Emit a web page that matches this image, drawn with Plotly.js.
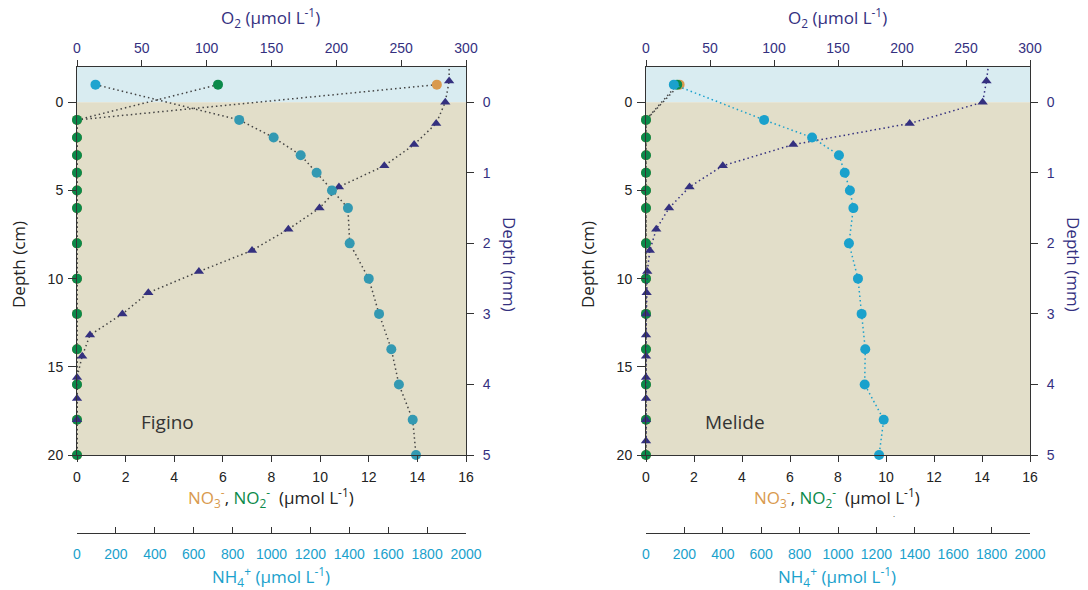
<!DOCTYPE html>
<html>
<head>
<meta charset="utf-8">
<script src="https://cdn.plot.ly/plotly-3.0.1.min.js"></script>
<style>html,body{margin:0;padding:0;background:#fff}#chart{width:1088px;height:590px}</style>
</head>
<body>
<div id="chart"></div>
<script>
// ---- data ----
const depthCm = [-1, 1, 2, 3, 4, 5, 6, 8, 10, 12, 14, 16, 18, 20];

// Figino
const figNO3 = [14.8, 0, 0, 0, 0, 0, 0, 0, 0, 0, 0, 0, 0, 0];
const figNO2 = [5.8, 0, 0, 0, 0, 0, 0, 0, 0, 0, 0, 0, 0, 0];
const figNH4 = [95, 834, 1011, 1150, 1232, 1311, 1393, 1402, 1500, 1553, 1616, 1655, 1726, 1743];
const figDepthMm = [-0.6, -0.3, 0, 0.3, 0.6, 0.9, 1.2, 1.5, 1.8, 2.1, 2.4, 2.7, 3.0, 3.3, 3.6, 3.9, 4.2, 4.5];
const figO2 = [287, 287, 284, 277, 260, 237, 202, 187, 163, 135, 94, 55, 35, 10, 4, 0, 0, 0];

// Melide
const melNO3 = [1.4, 0, 0, 0, 0, 0, 0, 0, 0, 0, 0, 0, 0, 0];
const melNO2 = [1.3, 0, 0, 0, 0, 0, 0, 0, 0, 0, 0, 0, 0, 0];
const melNH4 = [145, 615, 865, 1005, 1035, 1062, 1080, 1057, 1104, 1123, 1142, 1139, 1238, 1214];
const melDepthMm = [-0.6, -0.3, 0, 0.3, 0.6, 0.9, 1.2, 1.5, 1.8, 2.1, 2.4, 2.7, 3.0, 3.3, 3.6, 3.9, 4.2, 4.5, 4.8];
const melO2 = [268, 266, 263, 206, 115, 60, 34, 18, 8, 3, 1, 0.5, 0, 0, 0, 0, 0, 0, 0];

const siteNames = ['Figino', 'Melide'];

// ---- style ----
const W = 1088, H = 590;
const px = x => x / W;
const py = y => 1 - y / H;
const C = {
  green: '#0b8a4a', orange: '#d99a4e', navy: '#34307f', tealF: '#3399b2', cyanF: '#1fa4cf',
  cyan: '#1aa1cc', dotGray: '#444444', water: '#d9ecf1', sed: '#e2dec9', axis: '#333333'
};
const tickFont = (color) => ({family: 'Liberation Sans, Arial, sans-serif', size: 14, color: color});
const titleFamily = 'Open Sans, Noto Sans, sans-serif';
const DASH = '1.5px,3px';

const panels = [
  {x0: 77, x1: 466, nx: '', ox: '2', hx: '3', yc: '', ym: '2'},
  {x0: 646, x1: 1030, nx: '4', ox: '5', hx: '6', yc: '3', ym: '4'}
];
const yTop = 67, yBot = 455, nhLine = 533;

const layout = {
  width: W, height: H,
  margin: {l: 0, r: 0, t: 0, b: 0},
  paper_bgcolor: '#ffffff', plot_bgcolor: 'rgba(0,0,0,0)',
  showlegend: false,
  shapes: [], annotations: []
};

panels.forEach((p, i) => {
  const dom = [px(p.x0), px(p.x1)];
  const ydom = [py(yBot), py(yTop)];
  const xN = 'xaxis' + p.nx, xO = 'xaxis' + p.ox, xH = 'xaxis' + p.hx;
  const yC = 'yaxis' + p.yc, yM = 'yaxis' + p.ym;
  const xNid = 'x' + p.nx, yCid = 'y' + p.yc;
  const common = {showgrid: false, zeroline: false, showline: true, linecolor: C.axis, linewidth: 1,
    tickcolor: C.axis, tickwidth: 1, automargin: false, fixedrange: true};
  layout[xN] = Object.assign({}, common, {domain: dom, range: [0, 16], dtick: 2, tick0: 0,
    anchor: yCid, side: 'bottom', ticks: 'outside', ticklen: 6, ticklabelstandoff: 3, tickfont: tickFont('#222')});
  layout[xO] = Object.assign({}, common, {overlaying: xNid, range: [0, 300], dtick: 50, tick0: 0,
    anchor: yCid, side: 'top', ticks: 'outside', ticklen: 6, ticklabelstandoff: 1, tickfont: tickFont(C.navy)});
  layout[xH] = Object.assign({}, common, {overlaying: xNid, range: [0, 2000], dtick: 200, tick0: 0,
    anchor: 'free', position: py(nhLine), side: 'bottom', ticks: 'inside', ticklen: 6,
    ticklabelstandoff: 8, tickfont: tickFont(C.cyan)});
  layout[yC] = Object.assign({}, common, {domain: ydom, range: [20, -2], dtick: 5, tick0: 0,
    anchor: xNid, side: 'left', ticks: 'outside', ticklen: 8, ticklabelstandoff: 2, tickfont: tickFont('#222')});
  layout[yM] = Object.assign({}, common, {overlaying: yCid, range: [5, -0.5], dtick: 1, tick0: 0,
    anchor: xNid, side: 'right', ticks: 'outside', ticklen: 7, ticklabelstandoff: 6, tickfont: tickFont(C.navy)});

  // backgrounds: water column above 0, sediment below
  layout.shapes.push({type: 'rect', layer: 'below', xref: xNid + ' domain', yref: yCid,
    x0: 0, x1: 1, y0: -2, y1: 0, fillcolor: C.water, line: {width: 0}});
  layout.shapes.push({type: 'rect', layer: 'below', xref: xNid + ' domain', yref: yCid,
    x0: 0, x1: 1, y0: 0, y1: 20, fillcolor: C.sed, line: {width: 0}});

  const cx = (p.x0 + p.x1) / 2 - 1;
  const ann = (text, x, y, size, color, extra) => layout.annotations.push(Object.assign({
    text: text, xref: 'paper', yref: 'paper', x: px(x), y: py(y), xanchor: 'center', yanchor: 'middle',
    showarrow: false, font: {family: titleFamily, size: size, color: color}}, extra || {}));
  ann('O<sub>2</sub> (µmol L<sup>-1</sup>)', cx, 18, 17, C.navy);
  ann('<span style="color:' + C.orange + '">NO<sub>3</sub><sup>-</sup></span>, ' +
      '<span style="color:' + C.green + '">NO<sub>2</sub><sup>-</sup></span>  (µmol L<sup>-1</sup>)',
      cx, 497, 17, '#222');
  ann('NH<sub>4</sub><sup>+</sup> (µmol L<sup>-1</sup>)', cx, 576, 17, C.cyan);
  ann('Depth (cm)', p.x0 - 59, 265, 17, '#222', {textangle: -90});
  ann('Depth (mm)', p.x1 + 44, 264, 17, C.navy, {textangle: 90});
  ann(siteNames[i], p.x0 + (i === 0 ? 90 : 89), 422, 19, '#333');
});
layout.annotations.push({text: '.', xref: 'paper', yref: 'paper', x: px(894), y: py(521),
  xanchor: 'center', yanchor: 'bottom', showarrow: false, font: {size: 8, color: '#333'}});

// ---- traces ----
const sites = [
  {no3: figNO3, no2: figNO2, nh4: figNH4, mm: figDepthMm, o2: figO2,
   nh4Colors: figNH4.map((v, k) => k === 0 ? C.cyanF : C.tealF), nh4Line: C.dotGray, o2Line: C.dotGray},
  {no3: melNO3, no2: melNO2, nh4: melNH4, mm: melDepthMm, o2: melO2,
   nh4Colors: C.cyan, nh4Line: C.cyan, o2Line: C.navy}
];
const traces = [];
sites.forEach((s, i) => {
  const p = panels[i];
  const xN = 'x' + p.nx, xO = 'x' + p.ox, xH = 'x' + p.hx, yC = 'y' + p.yc, yM = 'y' + p.ym;
  const lineOnly = (x, y, xa, ya, color) => ({type: 'scatter', mode: 'lines', x: x, y: y, xaxis: xa, yaxis: ya,
    hoverinfo: 'skip', line: {color: color, width: 1.5, dash: DASH}});
  const dots = (x, y, xa, ya, marker, name) => ({type: 'scatter', mode: 'markers', x: x, y: y, xaxis: xa, yaxis: ya,
    name: name, cliponaxis: false, marker: marker});
  // lines (clipped to the plot area)
  traces.push(lineOnly(s.no3, depthCm, xN, yC, C.dotGray));
  traces.push(lineOnly(s.no2, depthCm, xN, yC, C.dotGray));
  traces.push(lineOnly(s.nh4, depthCm, xH, yC, s.nh4Line));
  traces.push(lineOnly(s.o2, s.mm, xO, yM, s.o2Line));
  // markers (full symbols even on the axis edges); only points inside the depth range
  traces.push(dots(s.no3, depthCm, xN, yC, {symbol: 'circle', size: 10, color: C.orange}, 'NO3-'));
  traces.push(dots(s.no2, depthCm, xN, yC, {symbol: 'circle', size: 10, color: C.green}, 'NO2-'));
  traces.push(dots(s.nh4, depthCm, xH, yC, {symbol: 'circle', size: 10, color: s.nh4Colors}, 'NH4+'));
  const inMm = s.mm.map((d, k) => k).filter(k => s.mm[k] >= -0.5);
  traces.push(dots(inMm.map(k => s.o2[k]), inMm.map(k => s.mm[k]), xO, yM,
    {symbol: 'triangle-up', size: 9, color: C.navy}, 'O2'));
});

Plotly.newPlot('chart', traces, layout, {displayModeBar: false, staticPlot: true});
</script>
</body>
</html>
